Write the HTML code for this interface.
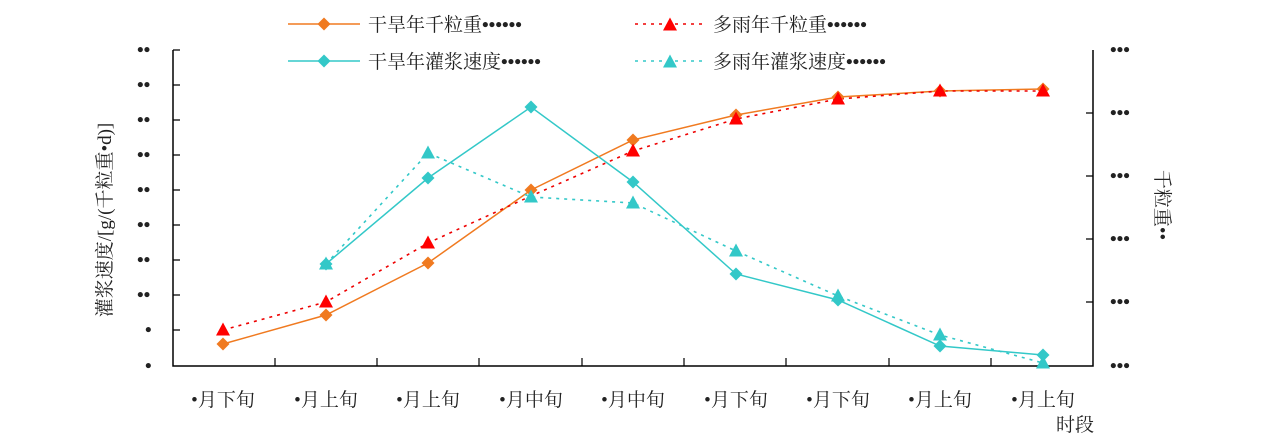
<!DOCTYPE html>
<html><head><meta charset="utf-8"><style>
body{margin:0;background:#fff;width:1268px;height:442px;overflow:hidden}
text{font-family:"Liberation Serif","Noto Serif CJK SC",serif;font-size:19px;fill:#222}
</style></head><body>
<svg width="1268" height="442" viewBox="0 0 1268 442" xmlns="http://www.w3.org/2000/svg">
<defs>
<path id="dia" d="M0,-6.5 L6.5,0 L0,6.5 L-6.5,0Z"/>
<path id="tri" d="M0,-7.5 L7,5.5 L-7,5.5Z"/>
</defs>
<path d="M173,50 V366 H1093 V50" fill="none" stroke="#000" stroke-width="1.5"/>
<g stroke="#000" stroke-width="1.2">
<path d="M173,50h7M173,85h7M173,120h7M173,155h7M173,190h7M173,225h7M173,260h7M173,295h7M173,330h7"/>
<path d="M1093,113h-7M1093,176h-7M1093,239h-7M1093,302h-7"/>
<path d="M275,366v-8M377,366v-8M479,366v-8M582,366v-8M684,366v-8M786,366v-8M889,366v-8M991,366v-8"/>
</g>
<g font-size="20" font-weight="bold">
<text x="137" y="56">••</text><text x="137" y="91">••</text><text x="137" y="126">••</text>
<text x="137" y="161">••</text><text x="137" y="196">••</text><text x="137" y="231">••</text>
<text x="137" y="266">••</text><text x="137" y="301">••</text><text x="145" y="336">•</text><text x="145" y="372">•</text>
<text x="1110" y="56">•••</text><text x="1110" y="119">•••</text><text x="1110" y="182">•••</text>
<text x="1110" y="245">•••</text><text x="1110" y="308">•••</text><text x="1110" y="372">•••</text>
</g>
<g text-anchor="middle" font-size="20">
<text x="223" y="406">•月下旬</text><text x="326" y="406">•月上旬</text><text x="428" y="406">•月上旬</text>
<text x="531" y="406">•月中旬</text><text x="633" y="406">•月中旬</text><text x="736" y="406">•月下旬</text>
<text x="838" y="406">•月下旬</text><text x="940" y="406">•月上旬</text><text x="1043" y="406">•月上旬</text>
<text x="1075" y="431">时段</text>
</g>
<text transform="translate(111,220) rotate(-90)" text-anchor="middle" font-size="20">灌浆速度/[g/(千粒重•d)]</text>
<text transform="translate(1156,205) rotate(90)" text-anchor="middle" font-size="20">千粒重••</text>
<polyline fill="none" stroke="#f07a20" stroke-width="1.5" points="223,344 326,315 428,263 531,190 633,140 736,115 838,97 940,91 1043,89"/>
<polyline fill="none" stroke="#e00" stroke-width="1.6" stroke-dasharray="3,5" points="223,330 326,302 428,243 531,196 633,151 736,119 838,99 940,91 1043,91"/>
<polyline fill="none" stroke="#33c8c8" stroke-width="1.5" points="326,264 428,178 531,107 633,182 736,274 838,300 940,346 1043,355"/>
<polyline fill="none" stroke="#33c8c8" stroke-width="1.6" stroke-dasharray="3,5" points="326,264 428,153 531,197 633,203 736,251 838,296 940,335 1043,363"/>
<g fill="#f07a20"><use href="#dia" x="223" y="344"/><use href="#dia" x="326" y="315"/><use href="#dia" x="428" y="263"/><use href="#dia" x="531" y="190"/><use href="#dia" x="633" y="140"/><use href="#dia" x="736" y="115"/><use href="#dia" x="838" y="97"/><use href="#dia" x="940" y="91"/><use href="#dia" x="1043" y="89"/></g>
<g fill="#f00"><use href="#tri" x="223" y="330"/><use href="#tri" x="326" y="302"/><use href="#tri" x="428" y="243"/><use href="#tri" x="633" y="151"/><use href="#tri" x="736" y="119"/><use href="#tri" x="838" y="99"/><use href="#tri" x="940" y="91"/><use href="#tri" x="1043" y="91"/></g>
<g fill="#33c8c8"><use href="#dia" x="326" y="264"/><use href="#dia" x="428" y="178"/><use href="#dia" x="531" y="107"/><use href="#dia" x="633" y="182"/><use href="#dia" x="736" y="274"/><use href="#dia" x="838" y="300"/><use href="#dia" x="940" y="346"/><use href="#dia" x="1043" y="355"/>
<use href="#tri" x="326" y="264"/><use href="#tri" x="428" y="153"/><use href="#tri" x="531" y="197"/><use href="#tri" x="633" y="203"/><use href="#tri" x="736" y="251"/><use href="#tri" x="838" y="296"/><use href="#tri" x="940" y="335"/><use href="#tri" x="1043" y="363"/></g>
<line x1="288" y1="24" x2="360" y2="24" stroke="#f07a20" stroke-width="1.5"/><use href="#dia" x="324" y="24" fill="#f07a20"/>
<text x="368" y="31" font-size="20">干旱年千粒重<tspan font-weight="bold">••••••</tspan></text>
<line x1="635" y1="24" x2="705" y2="24" stroke="#e00" stroke-width="1.6" stroke-dasharray="3,5"/><use href="#tri" x="670" y="25" fill="#f00"/>
<text x="713" y="31" font-size="20">多雨年千粒重<tspan font-weight="bold">••••••</tspan></text>
<line x1="288" y1="61" x2="360" y2="61" stroke="#33c8c8" stroke-width="1.5"/><use href="#dia" x="324" y="61" fill="#33c8c8"/>
<text x="368" y="68" font-size="20">干旱年灌浆速度<tspan font-weight="bold">••••••</tspan></text>
<line x1="635" y1="61" x2="705" y2="61" stroke="#33c8c8" stroke-width="1.6" stroke-dasharray="3,5"/><use href="#tri" x="670" y="62" fill="#33c8c8"/>
<text x="713" y="68" font-size="20">多雨年灌浆速度<tspan font-weight="bold">••••••</tspan></text>
</svg>
</body></html>
